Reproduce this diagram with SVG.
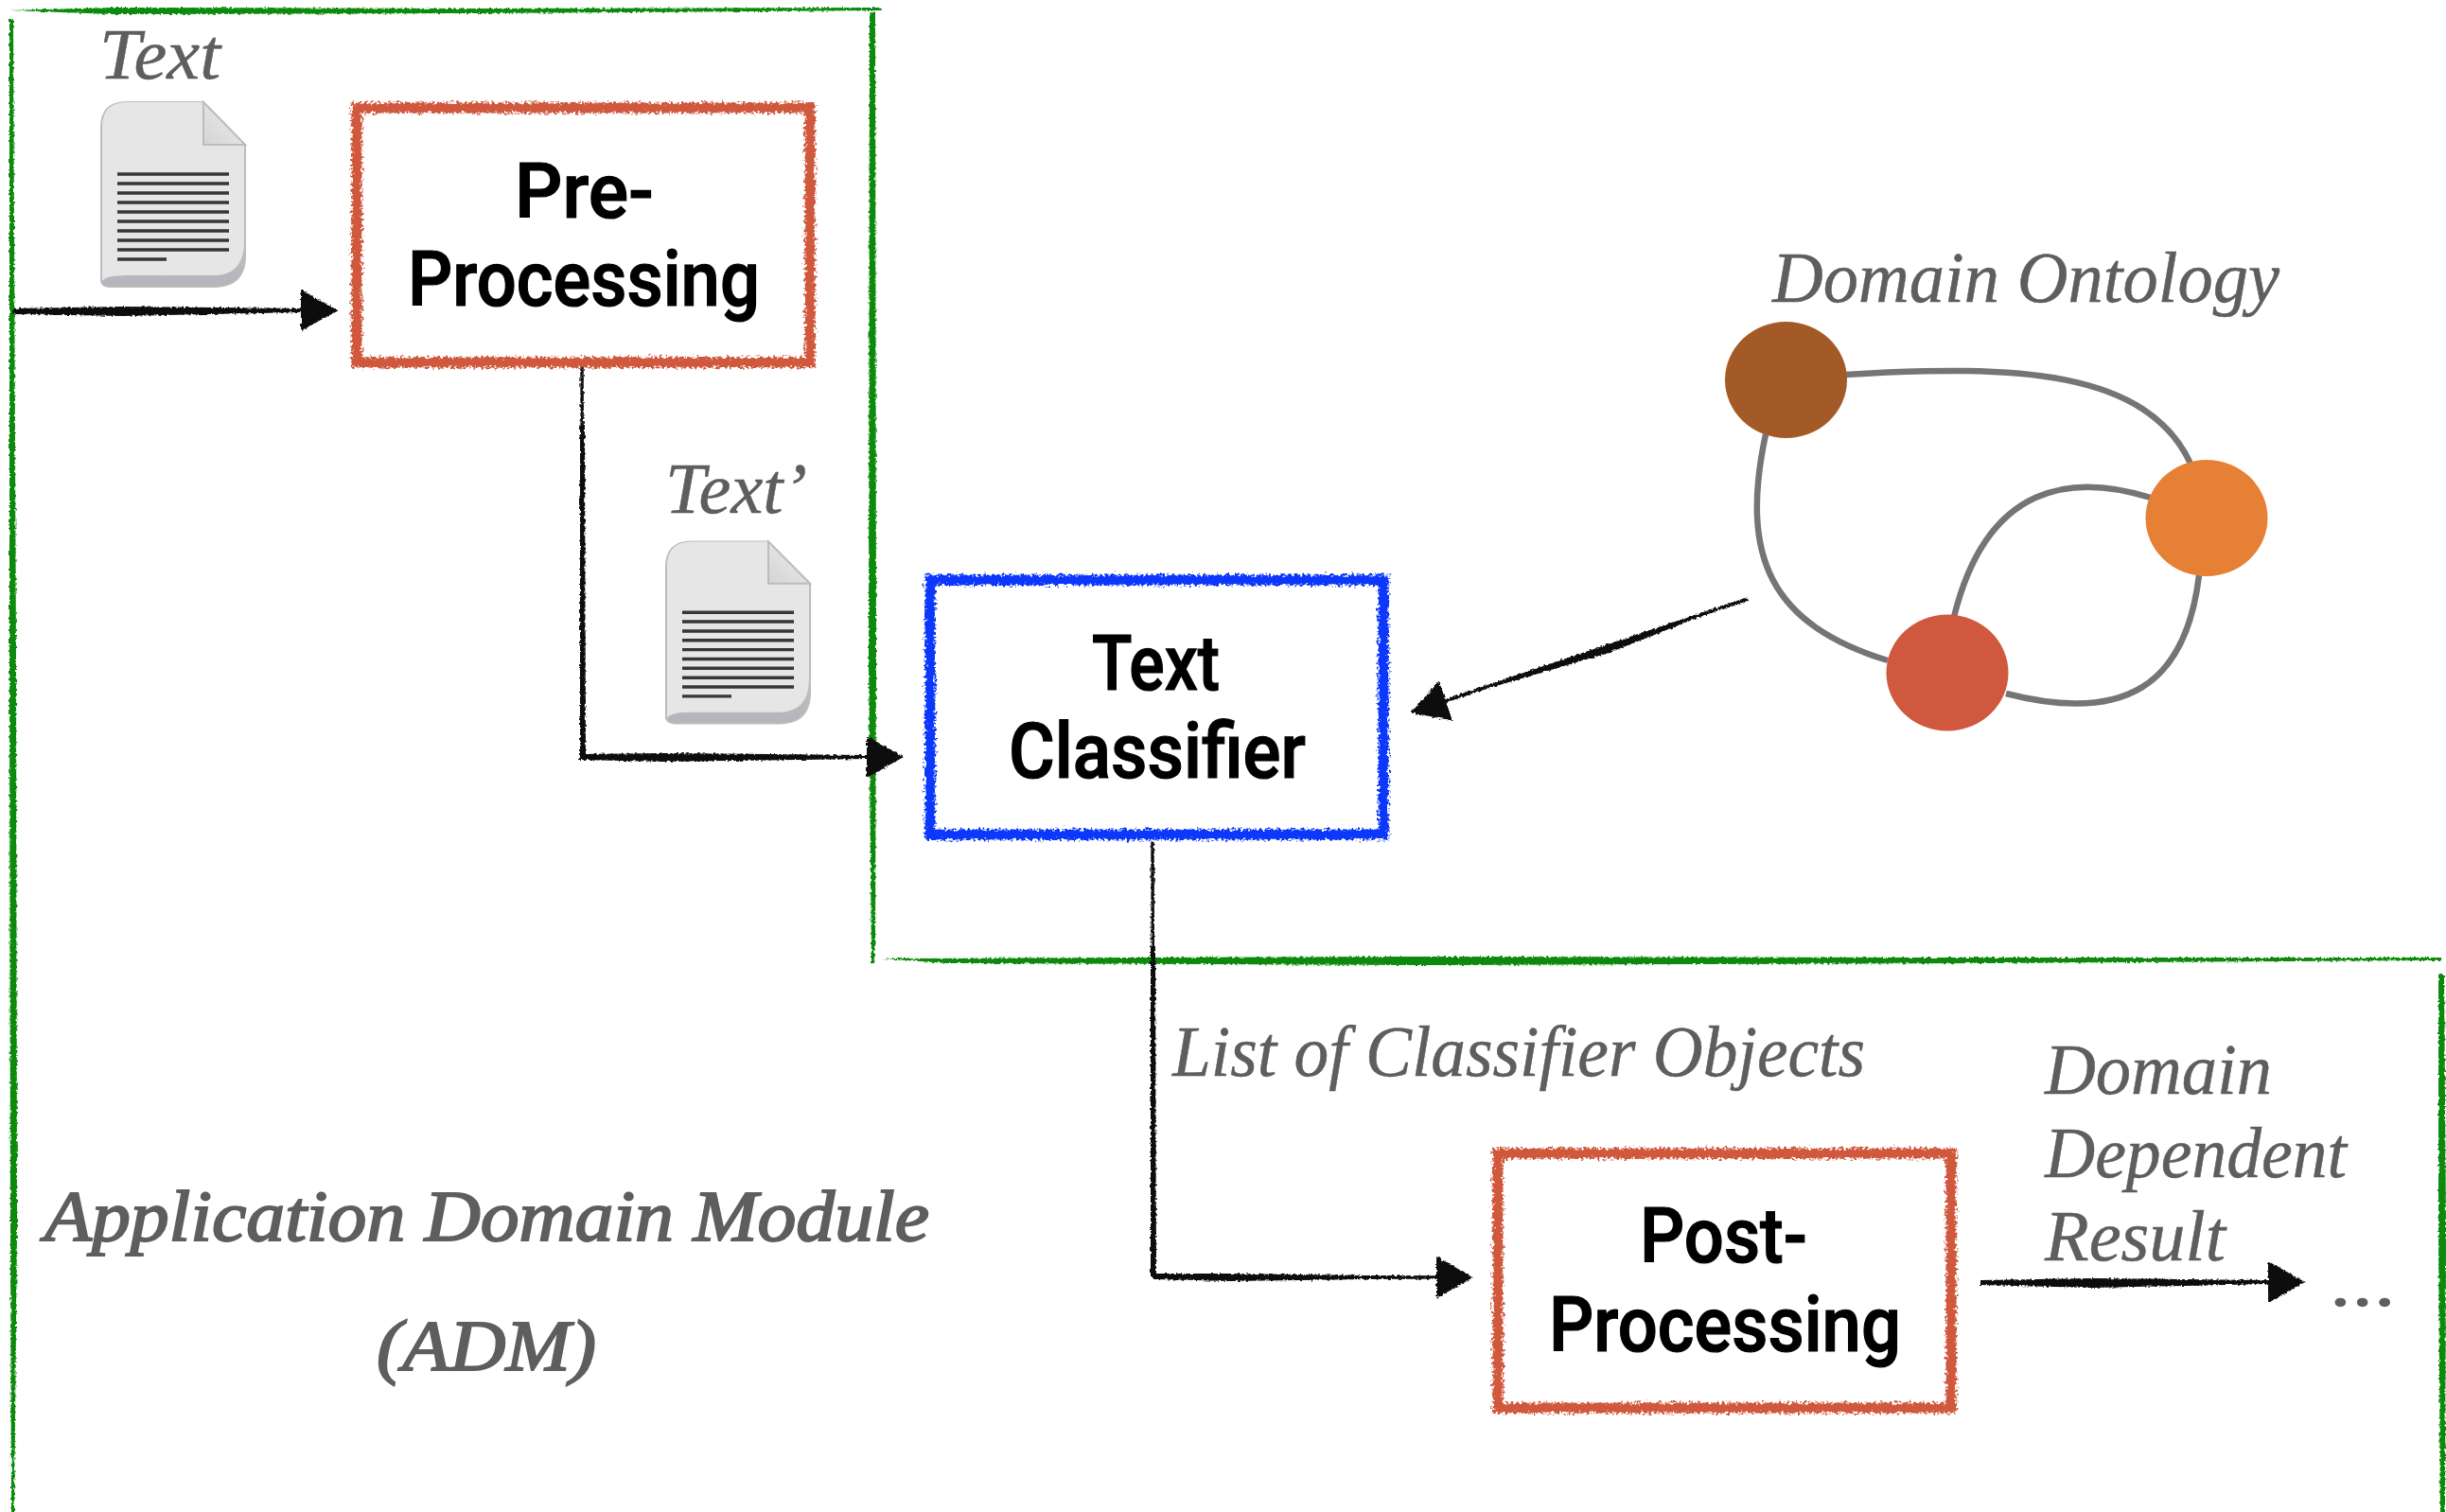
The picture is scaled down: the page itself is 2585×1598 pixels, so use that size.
<svg xmlns="http://www.w3.org/2000/svg" xmlns:xlink="http://www.w3.org/1999/xlink" width="2585" height="1598" viewBox="0 0 2585 1598">
<style>
.box{fill:none;stroke-width:11;filter:url(#rough)}
.red{stroke:#d0583c}
.blue{stroke:#0a37fb}
.lab{font-family:Roboto,"Liberation Sans",sans-serif;font-weight:500;font-size:81px;fill:#000;stroke:#000;stroke-width:1.2}
.it{font-family:"Liberation Serif",serif;font-style:italic;font-size:76px;fill:#5e5e5e;stroke:#5e5e5e;stroke-width:.5}
.bd{stroke-width:2}
.wire{fill:none;stroke:#111;stroke-width:3.5;marker-end:url(#head)}
.taper{fill:#111}
.green{fill:#078a07}
.edge{fill:none;stroke:#757575;stroke-width:6.5}
.docline{stroke:#363636;stroke-width:3.5}
</style>
<defs>
<filter id="rough" filterUnits="userSpaceOnUse" x="0" y="0" width="2585" height="1598">
<feTurbulence type="fractalNoise" baseFrequency="0.35" numOctaves="2" seed="4"/>
<feDisplacementMap in="SourceGraphic" scale="10" xChannelSelector="R" yChannelSelector="G"/>
</filter>
<filter id="rough2" filterUnits="userSpaceOnUse" x="0" y="0" width="2585" height="1598">
<feTurbulence type="fractalNoise" baseFrequency="0.35" numOctaves="2" seed="9"/>
<feDisplacementMap in="SourceGraphic" scale="4" xChannelSelector="R" yChannelSelector="G"/>
</filter>
<marker id="head" markerUnits="userSpaceOnUse" markerWidth="42" markerHeight="48" refX="1" refY="24" orient="auto" viewBox="0 0 42 48">
<path d="M0 2 L39 24 L0 46 Z" fill="#111"/>
</marker>
<linearGradient id="curl" x1="0" y1="0" x2="0" y2="1"><stop offset="0" stop-color="#e2e2e6"/><stop offset="1" stop-color="#b4b4bc"/></linearGradient>
<linearGradient id="fold" x1="0" y1="1" x2="1" y2="0"><stop offset="0" stop-color="#d4d4d4"/><stop offset="1" stop-color="#efefef"/></linearGradient>
<g id="doc">
<path d="M107 135 Q107 108 134 108 L215 108 L259 153 L259 270 Q259 303 226 303 L118 303 Q107 303 107 296 Z" fill="url(#curl)" stroke="#bcbcbc" stroke-width="2"/>
<path d="M108 297 Q112 291 134 291 L226 291 Q258 291 258 255 L258 153 L215 108 L134 108 Q108 108 108 135 Z" fill="#e6e6e6"/>
<path d="M215 108 L259 153 L215 153 Z" fill="url(#fold)" stroke="#bcbcbc" stroke-width="2"/>
<path class="docline" d="M124 184H242M124 194H242M124 204H242M124 214H242M124 224H242M124 234H242M124 244H242M124 254H242M124 264H242M124 274H176"/>
</g>
</defs>
<rect width="2585" height="1598" fill="#fff"/>

<g id="adm-frame" filter="url(#rough2)">
<polygon class="green" points="10,11 120,8 500,9 930,8 932,11 500,14 120,15"/>
<polygon class="green" points="10,20 14,20 17,700 18,1300 15,1598 12,1598 11,1300 10,700"/>
<polygon class="green" points="919,14 925,12 926,700 925,1000 923,1018 921,1018 918,700"/>
<polygon class="green" points="932,1013 1500,1011 2100,1012 2580,1012 2580,1015 2100,1018 1500,1020 1000,1018"/>
<polygon class="green" points="2577,1030 2583,1030 2585,1300 2584,1598 2579,1598 2577,1300"/>
</g>

<g id="connectors" filter="url(#rough2)">
<path class="wire" d="M13 329 L319 328"/>
<polygon class="taper" points="14,326 130,324 319,326 319,330 130,334 14,332"/>
<path class="wire" d="M615 384 L616 800 L917 800"/>
<polygon class="taper" points="612,797 700,796 917,798 917,802 700,805 612,803"/>
<polygon class="taper" points="613,450 618,450 619,800 613,800"/>
<path class="wire" d="M1847 633 L1527 741"/>
<polygon class="taper" points="1847,632 1700,681 1527,741 1700,690"/>
<path class="wire" d="M1218 890 L1219 1349 L1519 1350"/>
<polygon class="taper" points="1216,1000 1221,1000 1222,1349 1216,1349"/>
<polygon class="taper" points="1219,1346 1300,1346 1519,1349 1519,1351 1300,1354 1219,1352"/>
<path class="wire" d="M2093 1356 L2398 1355"/>
<polygon class="taper" points="2093,1353 2210,1351 2398,1353 2398,1357 2210,1361 2093,1358"/>
</g>

<g id="doc-text">
<text class="it" x="105" y="83" textLength="128" lengthAdjust="spacingAndGlyphs">Text</text>
<use xlink:href="#doc" href="#doc"/>
</g>
<g id="doc-textprime">
<text class="it" x="703" y="542" textLength="150" lengthAdjust="spacingAndGlyphs">Text’</text>
<use xlink:href="#doc" href="#doc" transform="translate(597,466) scale(1,0.985)"/>
</g>

<g id="pre-processing">
<rect class="box red" x="377" y="114" width="479" height="269"/>
<text class="lab" x="544" y="230" textLength="147" lengthAdjust="spacingAndGlyphs">Pre-</text>
<text class="lab" x="431" y="323" textLength="372" lengthAdjust="spacingAndGlyphs">Processing</text>
</g>
<g id="text-classifier">
<rect class="box blue" x="983" y="613" width="479" height="269"/>
<text class="lab" x="1154" y="729" textLength="135" lengthAdjust="spacingAndGlyphs">Text</text>
<text class="lab" x="1066" y="822" textLength="314" lengthAdjust="spacingAndGlyphs">Classifier</text>
</g>
<g id="post-processing">
<rect class="box red" x="1583" y="1219" width="479" height="269"/>
<text class="lab" x="1733" y="1334" textLength="177" lengthAdjust="spacingAndGlyphs">Post-</text>
<text class="lab" x="1637" y="1428" textLength="372" lengthAdjust="spacingAndGlyphs">Processing</text>
</g>

<g id="ontology">
<text class="it" x="1873" y="319" textLength="536" lengthAdjust="spacingAndGlyphs">Domain Ontology</text>
<path class="edge" d="M1950 396 C2130 385 2270 390 2316 492"/>
<path class="edge" d="M1866 459 C1838 590 1872 660 1995 698"/>
<path class="edge" d="M2273 526 C2190 500 2100 510 2065 652"/>
<path class="edge" d="M2324 608 C2310 725 2245 765 2120 733"/>
<ellipse cx="1887.5" cy="401.5" rx="64.5" ry="61.5" fill="#a45a27"/>
<ellipse cx="2332" cy="547.5" rx="64.5" ry="61.5" fill="#e58035"/>
<ellipse cx="2058" cy="711" rx="64.5" ry="61.5" fill="#d0583f"/>
</g>

<g id="labels">
<text class="it" x="1239" y="1137" textLength="732" lengthAdjust="spacingAndGlyphs">List of Classifier Objects</text>
<text class="it" x="2161" y="1156" textLength="240" lengthAdjust="spacingAndGlyphs">Domain</text>
<text class="it" x="2161" y="1244" textLength="319" lengthAdjust="spacingAndGlyphs">Dependent</text>
<text class="it" x="2161" y="1332" textLength="191" lengthAdjust="spacingAndGlyphs">Result</text>
<text class="it" x="2464" y="1380" textLength="70" lengthAdjust="spacingAndGlyphs">...</text>
<text class="it bd" x="47" y="1311" textLength="935" lengthAdjust="spacingAndGlyphs">Application Domain Module</text>
<text class="it bd" x="398" y="1448" textLength="232" lengthAdjust="spacingAndGlyphs">(ADM)</text>
</g>
</svg>
